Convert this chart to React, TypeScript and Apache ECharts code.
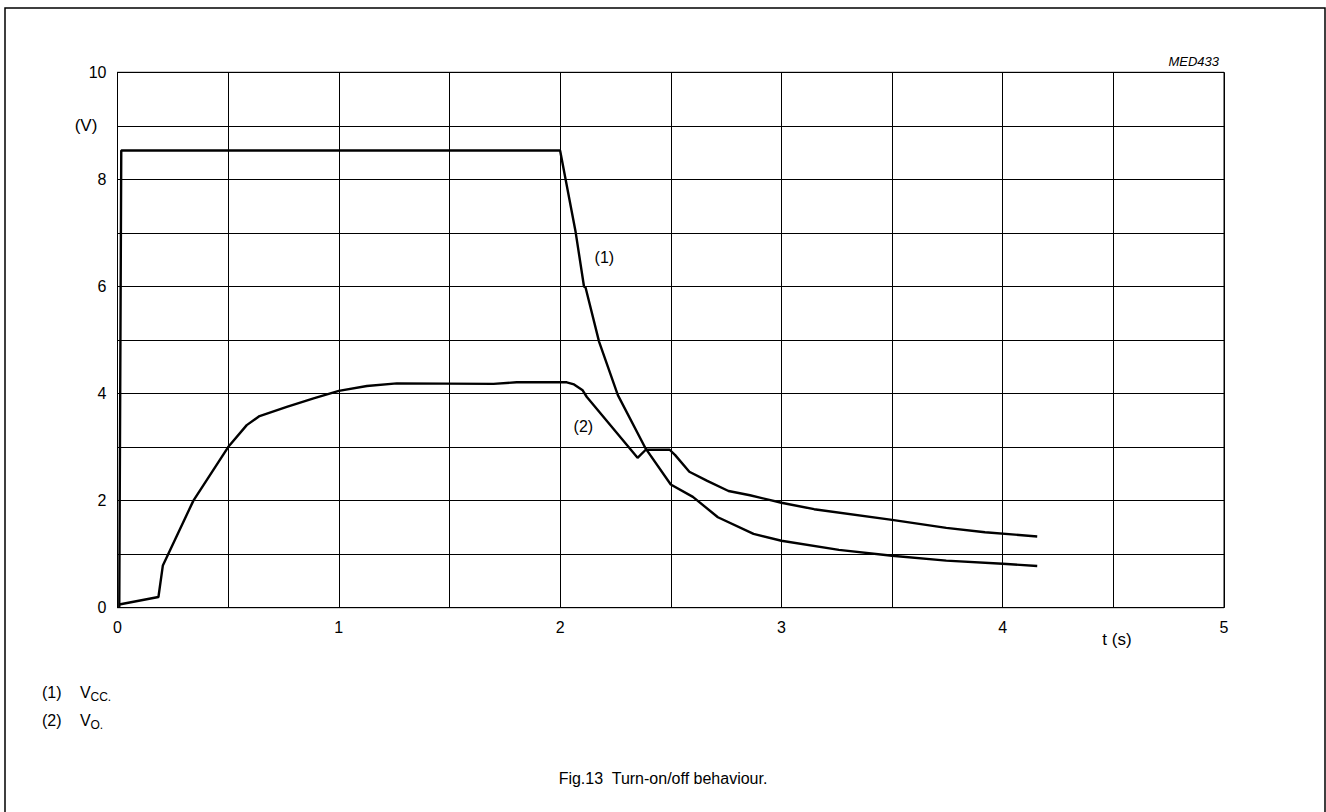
import React, { useEffect, useRef } from "react";
import * as echarts from "echarts";

// Curve (1): VCC
const vccT = [0.008, 0.017, 2.0, 2.07, 2.108, 2.115, 2.176, 2.261, 2.387, 2.5, 2.6, 2.713, 2.874, 3.0, 3.26, 3.5, 3.745, 4.0, 4.156];
const vccV = [0, 8.54, 8.54, 7.02, 6.0, 5.98, 4.97, 3.97, 2.97, 2.3, 2.07, 1.69, 1.38, 1.25, 1.08, 0.97, 0.88, 0.82, 0.78];

// Curve (2): VO
const voT = [0.0075, 0.185, 0.205, 0.343, 0.5, 0.584, 0.642, 0.765, 0.886, 1.0, 1.127, 1.262, 1.699, 1.804, 2.03, 2.063, 2.102, 2.12, 2.35, 2.387, 2.495, 2.52, 2.584, 2.665, 2.761, 2.858, 3.0, 3.148, 3.5, 3.745, 3.92, 4.156];
const voV = [0.06, 0.2, 0.79, 2.0, 3.0, 3.41, 3.58, 3.75, 3.91, 4.05, 4.14, 4.19, 4.18, 4.21, 4.21, 4.17, 4.06, 3.94, 2.8, 2.95, 2.95, 2.85, 2.54, 2.37, 2.18, 2.1, 1.96, 1.84, 1.64, 1.49, 1.41, 1.33];

// Curve labels and their anchor points (t, V)
const curveLabels = ["(1)", "(2)"];
const curveLabelT = [2.2, 2.105];
const curveLabelV = [6.54, 3.39];

const xTickLabels = ["0", "1", "2", "3", "4", "5"];
const yTickLabels = ["0", "2", "4", "6", "8", "10"];

const FONT = "'Liberation Sans', Arial, Helvetica, sans-serif";

export default function App() {
  const ref = useRef<HTMLDivElement>(null);
  useEffect(() => {
    if (!ref.current) return;
    const chart = echarts.init(ref.current, undefined, { renderer: "svg" });
    const zip = (a: number[], b: number[]) => a.map((v, i) => [v, b[i]]);
    const txt = (x: number, y: number, text: string, fontSize: number, align = "left", extra: any = {}) => ({
      type: "text",
      x,
      y,
      silent: true,
      style: { text, fontSize, fontFamily: FONT, fill: "#000", align, verticalAlign: "middle", ...extra },
    });
    chart.setOption({
      animation: false,
      backgroundColor: "#fff",
      textStyle: { fontFamily: FONT, color: "#000" },
      grid: {
        left: 117.5,
        top: 72.3,
        right: 102,
        bottom: 204.3,
        show: true,
        borderColor: "#000",
        borderWidth: 1,
        backgroundColor: "transparent",
      },
      xAxis: {
        type: "value",
        min: 0,
        max: 5,
        interval: 0.5,
        axisLine: { show: true, lineStyle: { color: "#000", width: 1 } },
        axisTick: { show: false },
        splitLine: { show: true, lineStyle: { color: "#000", width: 1 } },
        axisLabel: {
          margin: 12,
          fontSize: 16,
          fontFamily: FONT,
          color: "#000",
          formatter: (v: number) => {
            const s = String(v);
            return xTickLabels.includes(s) ? s : "";
          },
        },
      },
      yAxis: {
        type: "value",
        min: 0,
        max: 10,
        interval: 1,
        axisLine: { show: true, lineStyle: { color: "#000", width: 1 } },
        axisTick: { show: false },
        splitLine: { show: true, lineStyle: { color: "#000", width: 1 } },
        axisLabel: {
          margin: 11,
          fontSize: 16,
          fontFamily: FONT,
          color: "#000",
          formatter: (v: number) => {
            const s = String(v);
            return yTickLabels.includes(s) ? s : "";
          },
        },
      },
      series: [
        {
          name: "VCC",
          type: "line",
          data: zip(vccT, vccV),
          showSymbol: false,
          symbol: "none",
          lineStyle: { color: "#000", width: 2.4 },
          z: 5,
        },
        {
          name: "VO",
          type: "line",
          data: zip(voT, voV),
          showSymbol: false,
          symbol: "none",
          lineStyle: { color: "#000", width: 2.4 },
          z: 5,
        },
      ],
    });
    const curveTexts = curveLabels.map((l, i) => {
      const p = chart.convertToPixel({ gridIndex: 0 }, [curveLabelT[i], curveLabelV[i]]) as number[];
      return txt(p[0], p[1], l, 16, "center");
    });
    chart.setOption({
      graphic: [
        {
          type: "rect",
          silent: true,
          shape: { x: 5, y: 8, width: 1320, height: 830 },
          style: { fill: "none", stroke: "#000", lineWidth: 1.5 },
        },
        txt(1219, 61, "MED433", 13, "right", { fontStyle: "italic" }),
        txt(86, 125, "(V)", 17, "center"),
        txt(1117, 639, "t (s)", 17, "center"),
        txt(42, 692, "(1)", 16),
        txt(80, 692, "V", 16),
        txt(90.5, 697, "CC.", 12),
        txt(42, 720, "(2)", 16),
        txt(80, 720, "V", 16),
        txt(90.5, 725, "O.", 12),
        txt(663, 778, "Fig.13  Turn-on/off behaviour.", 16, "center"),
        ...curveTexts,
      ],
    });
    return () => chart.dispose();
  }, []);
  return (
    <div
      ref={ref}
      style={{ position: "fixed", left: 0, top: 0, width: 1326, height: 812, background: "#fff" }}
    />
  );
}
